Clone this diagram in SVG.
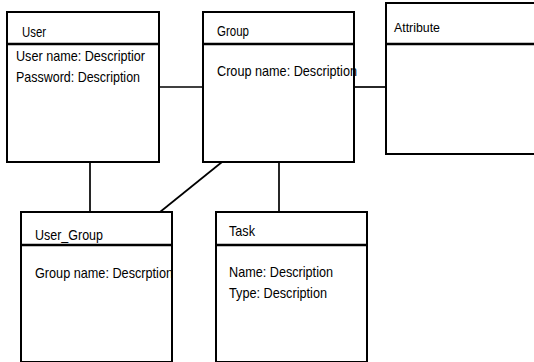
<svg xmlns="http://www.w3.org/2000/svg" width="534" height="362" viewBox="0 0 534 362">
<style>
.box{fill:#fff;stroke:#000;stroke-width:2}
.div{stroke:#000;stroke-width:2.5}
.conn{stroke:#000;stroke-width:1.7;fill:none}
text{font-family:"Liberation Sans",Arial,sans-serif;font-size:14.5px;fill:#000}
</style>
<g id="connectors">
<line class="conn" x1="159" y1="87" x2="203" y2="87"/>
<line class="conn" x1="354" y1="87" x2="386" y2="87"/>
<line class="conn" x1="90" y1="162" x2="90" y2="212"/>
<line class="conn" x1="279" y1="162" x2="279" y2="212"/>
<line class="conn" x1="222" y1="162" x2="160" y2="212"/>
</g>
<g id="user">
<rect class="box" x="7" y="12" width="152" height="150"/>
<line class="div" x1="7" y1="44" x2="159" y2="44"/>
<text x="22" y="37" textLength="24" lengthAdjust="spacingAndGlyphs">User</text>
<text x="16" y="61" textLength="129" lengthAdjust="spacingAndGlyphs">User name: Descriptior</text>
<text x="16" y="82" textLength="124" lengthAdjust="spacingAndGlyphs">Password: Description</text>
</g>
<g id="group">
<rect class="box" x="203" y="12" width="151" height="150"/>
<line class="div" x1="203" y1="44" x2="354" y2="44"/>
<text x="217" y="36" textLength="32" lengthAdjust="spacingAndGlyphs">Group</text>
<text x="217" y="76" textLength="140" lengthAdjust="spacingAndGlyphs">Croup name: Description</text>
</g>
<g id="attribute">
<rect class="box" x="386" y="3" width="152" height="151"/>
<line class="div" x1="386" y1="44" x2="536" y2="44"/>
<text x="394" y="32" style="font-size:12px" textLength="46" lengthAdjust="spacingAndGlyphs">Attribute</text>
</g>
<g id="user_group">
<rect class="box" x="21" y="212" width="151" height="150"/>
<line class="div" x1="21" y1="245" x2="172" y2="245"/>
<text x="35" y="240" textLength="68" lengthAdjust="spacingAndGlyphs">User_Group</text>
<text x="35" y="278" textLength="138" lengthAdjust="spacingAndGlyphs">Group name: Descrption</text>
</g>
<g id="task">
<rect class="box" x="216" y="212" width="151" height="150"/>
<line class="div" x1="216" y1="245" x2="367" y2="245"/>
<text x="229" y="236" textLength="26" lengthAdjust="spacingAndGlyphs">Task</text>
<text x="229" y="277" textLength="104" lengthAdjust="spacingAndGlyphs">Name: Description</text>
<text x="229" y="298" textLength="98" lengthAdjust="spacingAndGlyphs">Type: Description</text>
</g>
</svg>
